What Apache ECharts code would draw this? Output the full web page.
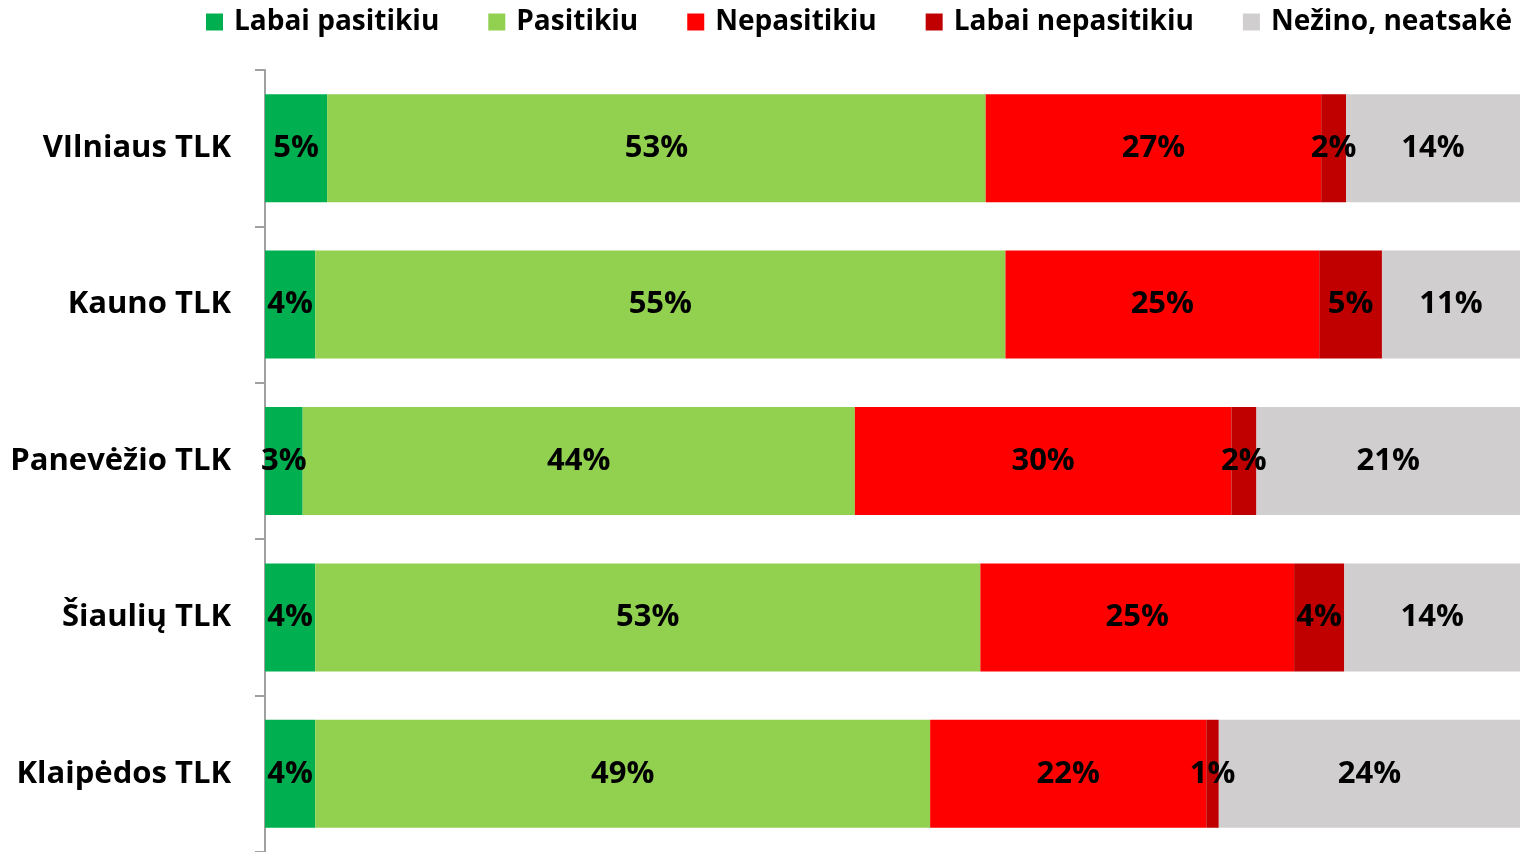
<!DOCTYPE html>
<html>
<head>
<meta charset="utf-8">
<title>TLK</title>
<script src="https://cdn.jsdelivr.net/npm/echarts@6/dist/echarts.min.js"></script>
<style>
  html, body { margin: 0; padding: 0; background: #fff; }
  #chart { width: 1520px; height: 852px; }
</style>
</head>
<body>
<div id="chart"></div>
<script>
// kategorijos (nuo virsaus zemyn)
var categories = ['VIlniaus TLK', 'Kauno TLK', 'Panevėžio TLK', 'Šiaulių TLK', 'Klaipėdos TLK'];
var seriesNames = ['Labai pasitikiu', 'Pasitikiu', 'Nepasitikiu', 'Labai nepasitikiu', 'Nežino, neatsakė'];

// reiksmes procentais
var labaiPasitikiu = [5, 4, 3, 4, 4];
var pasitikiu = [53, 55, 44, 53, 49];
var nepasitikiu = [27, 25, 30, 25, 22];
var labaiNepasitikiu = [2, 5, 2, 4, 1];
var nezino = [14, 11, 21, 14, 24];

var colors = ['#00B050', '#92D050', '#FF0000', '#C00000', '#D0CECE'];
var allData = [labaiPasitikiu, pasitikiu, nepasitikiu, labaiNepasitikiu, nezino];

// 100% sudetine juosta: kiekviena eilute normuojama pagal jos suma
var totals = categories.map(function (c, j) {
  var s = 0;
  for (var i = 0; i < allData.length; i++) s += allData[i][j];
  return s;
});

var chart = echarts.init(document.getElementById('chart'));
var font = '"Open Sans", sans-serif';

var series = allData.map(function (d, i) {
  return {
    name: seriesNames[i],
    type: 'bar',
    stack: 'total',
    barWidth: 108,
    data: d.map(function (v, j) { return v / totals[j] * 100; }),
    itemStyle: { color: colors[i] },
    label: {
      show: true,
      position: 'inside',
      formatter: function (p) { return allData[p.seriesIndex][p.dataIndex] + '%'; },
      color: '#000',
      fontFamily: font,
      fontWeight: 'bold',
      fontSize: 31
    }
  };
});

var option = {
  animation: false,
  color: colors,
  legend: {
    top: 3,
    left: 201,
    itemWidth: 17,
    itemHeight: 17,
    itemGap: 49,
    icon: 'rect',
    textStyle: {
      fontFamily: font,
      fontWeight: 'bold',
      fontSize: 28,
      color: '#000',
      padding: [0, 0, 0, 6]
    },
    data: seriesNames
  },
  grid: {
    left: 265,
    right: -10,
    top: 70,
    bottom: -3,
    containLabel: false
  },
  xAxis: {
    type: 'value',
    min: 0,
    max: 100,
    show: false
  },
  yAxis: {
    type: 'category',
    inverse: true,
    data: categories,
    axisLine: { show: true, lineStyle: { color: '#A0A0A0', width: 2 } },
    axisTick: { show: true, length: 10, lineStyle: { color: '#A0A0A0', width: 2 } },
    axisLabel: {
      margin: 34,
      color: '#000',
      fontFamily: font,
      fontWeight: 'bold',
      fontSize: 31
    }
  },
  series: series
};

chart.setOption(option);
</script>
</body>
</html>
